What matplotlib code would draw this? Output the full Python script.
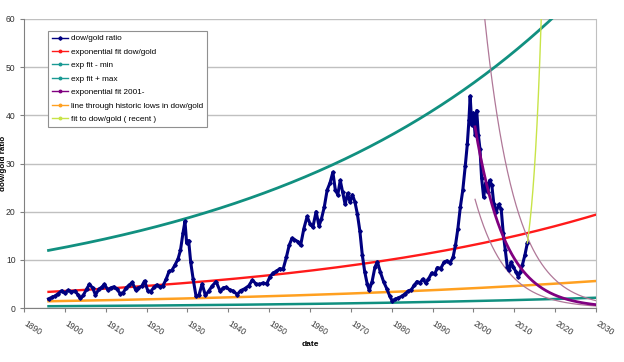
import numpy as np
import matplotlib
matplotlib.use("Agg")
import matplotlib.pyplot as plt
import matplotlib.transforms as mtransforms
from matplotlib.lines import Line2D

plt.rcParams['font.family'] = ['Liberation Sans', 'DejaVu Sans']

# ---- dow/gold ratio ----
years = [
    1896.0, 1896.8, 1897.6, 1898.4, 1899.2, 1900.0, 1900.8, 1901.6, 1902.4, 1903.2,
    1903.8, 1904.5, 1905.3, 1906.0, 1906.8, 1907.5, 1908.3, 1909.0, 1909.7, 1910.5,
    1911.3, 1912.0, 1912.8, 1913.5, 1914.3, 1915.0, 1915.8, 1916.5, 1917.3, 1918.0,
    1918.8, 1919.5, 1920.3, 1921.0, 1921.8, 1922.5, 1923.3, 1924.0, 1924.8, 1925.5,
    1926.2, 1927.0, 1927.7, 1928.3, 1928.9, 1929.4, 1929.8, 1930.3, 1930.8, 1931.4,
    1932.1, 1932.8, 1933.6, 1934.4, 1935.2, 1936.0, 1937.0, 1938.0, 1938.8, 1939.5,
    1940.3, 1941.2, 1942.2, 1943.0, 1944.0, 1945.0, 1945.9, 1946.8, 1947.6, 1948.5,
    1949.4, 1950.2, 1951.0, 1951.8, 1952.6, 1953.4, 1954.2, 1954.9, 1955.6, 1956.2,
    1957.0, 1957.7, 1958.5, 1959.3, 1960.0, 1960.7, 1961.5, 1962.2, 1962.8, 1963.5,
    1964.2, 1964.9, 1965.6, 1966.2, 1966.8, 1967.4, 1968.0, 1968.6, 1969.2, 1969.8,
    1970.4, 1971.0, 1971.6, 1972.2, 1972.8, 1973.4, 1974.0, 1974.5, 1975.2, 1975.9,
    1976.5, 1977.2, 1978.0, 1978.8, 1979.5, 1980.1, 1980.8, 1981.6, 1982.4, 1983.2,
    1984.0, 1984.8, 1985.5, 1986.2, 1986.9, 1987.6, 1988.3, 1989.0, 1989.8, 1990.5,
    1991.2, 1992.0, 1992.8, 1993.5, 1994.3, 1995.0, 1995.6, 1996.2, 1996.8, 1997.4,
    1998.0, 1998.5, 1998.9, 1999.2, 1999.6, 2000.0, 2000.4, 2000.8, 2001.2, 2001.6,
    2002.0, 2002.5, 2003.0, 2003.5, 2004.0, 2004.5, 2005.0, 2005.6, 2006.2, 2006.8,
    2007.3, 2007.8, 2008.3, 2008.7, 2009.2, 2009.8, 2010.4, 2011.0, 2011.5, 2012.0,
    2012.6, 2013.2,
]
ratio = [
    1.9, 2.2, 2.5, 3.0, 3.6, 3.1, 3.7, 3.4, 3.5, 2.8,
    2.0, 2.6, 3.9, 4.9, 4.2, 2.7, 3.9, 4.3, 4.9, 3.8,
    4.2, 4.4, 3.9, 3.0, 3.2, 4.2, 4.8, 5.3, 3.8, 4.2,
    4.5, 5.6, 3.6, 3.4, 4.3, 4.8, 4.4, 4.6, 6.0, 7.6,
    7.8, 9.0, 10.2, 12.0, 15.5, 18.0, 13.5, 14.0, 9.5, 6.0,
    2.5, 2.6, 5.0, 2.6, 3.5, 4.5, 5.5, 3.5, 4.2, 4.3,
    3.8, 3.5, 2.8, 3.6, 4.0, 4.6, 5.8, 5.0, 4.9, 5.2,
    5.0, 6.5, 7.3, 7.6, 8.2, 8.0, 10.5, 13.0, 14.5, 14.2,
    13.8, 13.0, 16.5, 19.0, 17.5, 16.8, 20.0, 17.0, 18.5, 21.0,
    24.5, 26.0, 28.2, 24.5, 23.5, 26.5, 24.0, 21.5, 23.8, 22.0,
    23.5, 22.0, 19.5, 16.0, 11.0, 7.5, 5.0, 3.7, 5.5, 8.5,
    9.6, 7.5, 5.5, 4.0, 2.5, 1.5, 1.8, 2.1, 2.4, 2.9,
    3.5, 3.8, 4.7, 5.5, 5.2, 6.0, 5.2, 6.0, 7.3, 7.0,
    8.4, 8.2, 9.5, 9.8, 9.4, 10.5, 13.0, 16.5, 21.0, 24.5,
    29.5, 34.0, 39.0, 44.0, 38.0, 40.5, 36.0, 41.0, 36.0, 33.0,
    27.0, 23.0, 26.0, 24.0, 26.5, 25.5, 21.5, 20.0, 21.5, 20.5,
    15.5, 12.0, 8.5, 7.8, 9.5, 8.5, 7.5, 6.5, 7.5, 9.0,
    11.0, 13.5,
]

# ---- fit parameters ----
fit_start, fit_end = 1896.0, 2030.0
exp_a, exp_b = 3.35, 0.0131          # exponential fit dow/gold
min_factor, max_factor = 0.11, 3.57  # exp fit - min / + max
lows_a, lows_b = 1.4, 0.01035        # line through historic lows
f2001_t0, f2001_a, f2001_b = 2000.4, 37.6, 0.135   # exponential fit 2001-
band_hi, band_lo = 2.2, 0.6          # thin bands around 2001- fit
recent_t0, recent_a, recent_b = 2013.2, 13.5, 0.44  # fit to dow/gold (recent)

y_ticks = [0, 10, 20, 30, 40, 50, 60]
x_ticks = list(range(1890, 2031, 10))

legend_labels = ["dow/gold ratio", "exponential fit dow/gold", "exp fit - min",
                 "exp fit + max", "exponential fit 2001-",
                 "line through historic lows in dow/gold", "fit to dow/gold ( recent )"]

c_navy = '#000080'
c_red = '#ff1a1a'
c_teal = '#119080'
c_teal2 = '#1a9a94'
c_purple = '#800080'
c_mauve = '#b07898'
c_orange = '#ffa020'
c_lime = '#c8e448'

fig = plt.figure(figsize=(6.24, 3.62), dpi=100)
ax = fig.add_axes([24/624, 1-308/362, (596-24)/624, (308-19)/362])

t = np.linspace(fit_start, fit_end, 400)
ex = exp_a * np.exp(exp_b * (t - fit_start))
ax.plot(t, ex * min_factor, color=c_teal, lw=1.8, zorder=3)
ax.plot(t, ex * max_factor, color=c_teal, lw=2.0, zorder=3)
ax.plot(t, lows_a * np.exp(lows_b * (t - fit_start)), color=c_orange, lw=1.8, zorder=3)
ax.plot(t, ex, color=c_red, lw=1.7, zorder=4)

t2 = np.linspace(f2001_t0, fit_end, 300)
f2 = f2001_a * np.exp(-f2001_b * (t2 - f2001_t0))
t2b = np.linspace(2000.0, fit_end, 300)
f2b = f2001_a * np.exp(-f2001_b * (t2b - f2001_t0))
ax.plot(t2b, f2b * band_hi, color=c_mauve, lw=0.9, zorder=4)
ax.plot(t2, f2 * band_lo, color=c_mauve, lw=0.9, zorder=4)

ax.plot(years, ratio, color=c_navy, lw=2.2, marker='D', ms=1.8, zorder=5)
ax.plot(t2, f2, color=c_purple, lw=2.0, zorder=6)

t3 = np.linspace(recent_t0, 2018, 200)
ax.plot(t3, recent_a * np.exp(recent_b * (t3 - recent_t0)), color=c_lime, lw=1.0, zorder=6)

ax.set_xlim(1890, 2030)
ax.set_ylim(0, 60)
ax.set_yticks(y_ticks)
ax.set_xticks(x_ticks)
ax.grid(axis='y', color='#c0c0c0', lw=1.0)
ax.set_axisbelow(True)
ax.spines['top'].set_visible(False)
ax.spines['right'].set_color('#c0c0c0')
ax.spines['left'].set_color('#808080')
ax.spines['bottom'].set_color('#808080')
ax.tick_params(axis='both', length=3, width=0.8, color='#808080', labelsize=6.2,
               labelcolor='#303030')
ax.tick_params(axis='y', pad=3)
ax.tick_params(axis='x', pad=5)
ax.set_yticklabels([str(v) for v in y_ticks])
ax.set_xticklabels([str(v) for v in x_ticks], rotation=-33, ha='left', va='top',
                   rotation_mode='anchor', color='#404040')
off = mtransforms.ScaledTranslation(3/100, 0, fig.dpi_scale_trans)
for lbl in ax.get_xticklabels():
    lbl.set_transform(lbl.get_transform() + off)

fig.text(0.497, 1-344/362, 'date', fontsize=6, fontweight='bold', ha='center', va='center')
fig.text(0.006, 0.55, 'dow/gold ratio', fontsize=5.8, fontweight='bold', rotation=90,
         ha='center', va='center')

handles = [
    Line2D([], [], color=c_navy, lw=1.0, marker='D', ms=1.8),
    Line2D([], [], color=c_red, lw=1.0, marker='o', ms=1.8),
    Line2D([], [], color=c_teal2, lw=1.0, marker='o', ms=1.8),
    Line2D([], [], color=c_teal2, lw=1.0, marker='o', ms=1.8),
    Line2D([], [], color=c_purple, lw=1.0, marker='o', ms=1.8),
    Line2D([], [], color=c_orange, lw=1.0, marker='o', ms=1.8),
    Line2D([], [], color=c_lime, lw=1.0, marker='o', ms=1.8),
]
leg = ax.legend(handles, legend_labels, loc='upper left',
                bbox_to_anchor=((48-24)/572, (308-31)/289), fontsize=5.9,
                frameon=True, fancybox=False, framealpha=1, edgecolor='#909090',
                borderpad=0.45, labelspacing=0.7, handlelength=2.0, handletextpad=0.4,
                borderaxespad=0)
leg.get_frame().set_linewidth(0.8)
leg.set_zorder(10)

fig.savefig('out.png', dpi=100)
